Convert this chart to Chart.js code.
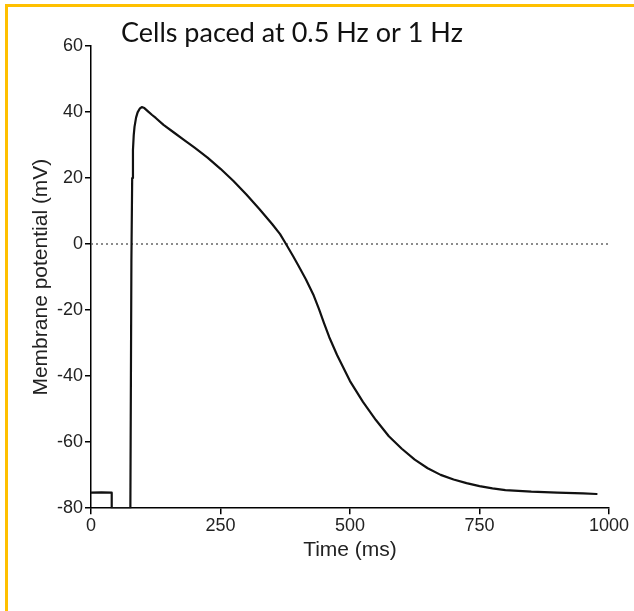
<!DOCTYPE html>
<html>
<head>
<meta charset="utf-8">
<script src="https://cdn.jsdelivr.net/npm/chart.js@4.4.1/dist/chart.umd.min.js"></script>
<style>
  html, body { margin: 0; padding: 0; background: #fff; }
  #wrap { position: relative; width: 634px; height: 611px; }
  #frame { position: absolute; left: 5px; top: 4px; right: 0; bottom: 0;
           border-top: 3px solid #FFC000; border-left: 3px solid #FFC000; }
  canvas { position: absolute; left: 0; top: 0; }
</style>
</head>
<body>
<div id="wrap">
  <div id="frame"></div>
  <canvas id="myChart" width="634" height="611"></canvas>
</div>
<script>
// Datos (potencial de acción)
const titleText = 'Cells paced at 0.5 Hz or 1 Hz';
const timeMs = [0, 20, 40, 40, 76, 78, 79.5, 81, 82.5, 84, 87, 90, 94, 98, 103,
  110, 118, 125, 140, 160, 180, 200, 225, 250, 275, 300, 325, 350, 365, 375, 390, 400,
  415, 430, 440, 450, 460, 475, 500, 525, 550, 575, 600, 625, 650, 675, 700,
  725, 750, 775, 800, 850, 900, 950, 976];
const potentialMv = [-75.3, -75.2, -75.3, -80, -80, -5, 20, 28.5, 33, 35.5, 38.3, 39.9, 41.0, 41.5, 41.2,
  40.2, 39.1, 38.2, 36.1, 33.8, 31.5, 29.2, 26.2, 22.8, 19.1, 15.0, 10.6, 6.0, 3.0, 0.4, -3.6, -6.4,
  -10.7, -15.6, -19.6, -24.0, -28.2, -33.6, -41.5, -47.8, -53.3, -58.2, -62.0, -65.3, -67.9, -69.9, -71.3,
  -72.4, -73.3, -74.0, -74.5, -75.0, -75.3, -75.5, -75.7];
const zeroTime = [0, 1000];
const zeroMv = [0, 0];
const xTicks = [0, 250, 500, 750, 1000];
const yTicks = [-80, -60, -40, -20, 0, 20, 40, 60];

const ctx = document.getElementById('myChart').getContext('2d');

const titlePlugin = {
  id: 'titleText',
  afterDraw(chart) {
    const c = chart.ctx;
    c.save();
    c.font = '27px Lato';
    c.fillStyle = '#111';
    c.textBaseline = 'alphabetic';
    c.fillText(titleText, 121, 42);
    c.restore();
  }
};

const tickFont = { family: 'Liberation Sans', size: 18 };
const titleFont = { family: 'Liberation Sans', size: 21 };

const myChart = new Chart(ctx, {
  type: 'line',
  data: {
    datasets: [{
      data: timeMs.map((t, i) => ({ x: t, y: potentialMv[i] })),
      borderColor: '#111',
      borderWidth: 2.2,
      borderJoinStyle: 'round',
      borderCapStyle: 'round',
      pointRadius: 0,
      tension: 0,
      fill: false
    }, {
      data: zeroTime.map((t, i) => ({ x: t, y: zeroMv[i] })),
      borderColor: '#666',
      borderWidth: 1.5,
      borderDash: [2, 3],
      pointRadius: 0,
      fill: false
    }]
  },
  options: {
    responsive: false,
    animation: false,
    layout: { padding: { left: 25, top: 46, right: 25, bottom: 44 } },
    plugins: { legend: { display: false }, tooltip: { enabled: false } },
    scales: {
      x: {
        type: 'linear',
        min: 0,
        max: 1000,
        afterBuildTicks: (s) => { s.ticks = xTicks.map(v => ({ value: v })); },
        ticks: { font: tickFont, color: '#222', padding: 1, callback: (v) => String(v) },
        grid: { drawOnChartArea: false, drawTicks: true, tickLength: 6, color: '#000', lineWidth: 1.5 },
        border: { color: '#000', width: 1.5 },
        title: { display: true, text: 'Time (ms)', font: titleFont, color: '#222', padding: { top: 0, bottom: 4 } }
      },
      y: {
        min: -80,
        max: 60,
        afterBuildTicks: (s) => { s.ticks = yTicks.map(v => ({ value: v })); },
        afterFit: (s) => { s.width = 66; },
        ticks: { font: tickFont, color: '#222', padding: 2, callback: (v) => String(v) },
        grid: { drawOnChartArea: false, drawTicks: true, tickLength: 6, color: '#000', lineWidth: 1.5 },
        border: { color: '#000', width: 1.5 },
        title: { display: true, text: 'Membrane potential (mV)', font: titleFont, color: '#222', padding: { top: 4, bottom: 0 } }
      }
    }
  },
  plugins: [titlePlugin]
});
</script>
</body>
</html>
